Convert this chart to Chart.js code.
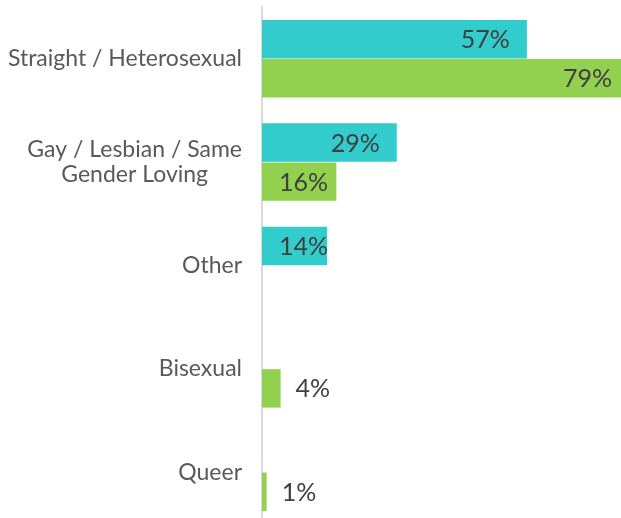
<!DOCTYPE html>
<html>
<head>
<meta charset="utf-8">
<script src="https://cdn.jsdelivr.net/npm/chart.js@4.4.1/dist/chart.umd.min.js"></script>
<style>
  html, body { margin: 0; padding: 0; background: #fff; overflow: hidden; }
  #wrap { width: 660px; height: 530px; }
</style>
</head>
<body>
<div id="wrap"><canvas id="chart"></canvas></div>
<script>
// categories (second one wraps on two lines)
const categories = [
  "Straight / Heterosexual",
  ["Gay / Lesbian / Same", "Gender Loving"],
  "Other",
  "Bisexual",
  "Queer",
];
// percent values per series, null = no bar
const tealValues = [57, 29, 14, null, null];
const greenValues = [79, 16, null, 4, 1];

const fontFamily = "Lato, 'Open Sans', sans-serif";

// percent labels: inside the end of the bar, outside when the bar is too short
const pctLabels = {
  id: "pctLabels",
  afterDatasetsDraw(chart) {
    const ctx = chart.ctx;
    ctx.save();
    ctx.font = "25px " + fontFamily;
    ctx.fillStyle = "#404040";
    ctx.textBaseline = "middle";
    ctx.textAlign = "left";
    chart.data.datasets.forEach((ds, di) => {
      chart.getDatasetMeta(di).data.forEach((bar, i) => {
        const v = ds.data[i];
        if (v == null) return;
        const text = v + "%";
        const w = ctx.measureText(text).width;
        const len = bar.x - bar.base;
        let x;
        if (len < w) x = bar.x + 15;
        else x = Math.max(bar.x - 17 - w, bar.base + 17);
        ctx.fillText(text, x, bar.y + 1);
      });
    });
    ctx.restore();
  },
};

// category labels, right aligned to the axis, wrapped lines centred on each other
const catLabels = {
  id: "catLabels",
  afterDraw(chart) {
    const ctx = chart.ctx;
    const yScale = chart.scales.y;
    ctx.save();
    ctx.font = "23px " + fontFamily;
    ctx.fillStyle = "#595959";
    ctx.textAlign = "center";
    ctx.textBaseline = "middle";
    const right = chart.chartArea.left - 20;
    chart.data.labels.forEach((lab, i) => {
      const lines = Array.isArray(lab) ? lab : [lab];
      const maxW = Math.max(...lines.map((l) => ctx.measureText(l).width));
      const cx = right - maxW / 2;
      const cy = yScale.getPixelForValue(i);
      lines.forEach((l, k) => {
        ctx.fillText(l, cx, cy + (k - (lines.length - 1) / 2) * 24.5);
      });
    });
    ctx.restore();
  },
};

new Chart(document.getElementById("chart"), {
  type: "bar",
  plugins: [pctLabels, catLabels],
  data: {
    labels: categories,
    datasets: [
      { label: "Series 1", data: tealValues, backgroundColor: "#33CCCC" },
      { label: "Series 2", data: greenValues, backgroundColor: "#92D050" },
    ],
  },
  options: {
    indexAxis: "y",
    responsive: true,
    maintainAspectRatio: false,
    animation: false,
    categoryPercentage: 0.755,
    barPercentage: 0.985,
    layout: { padding: { top: 7, bottom: 6, right: 3 } },
    plugins: {
      legend: { display: false },
      tooltip: { enabled: false },
    },
    scales: {
      x: { display: false, min: 0, max: 85 },
      y: {
        ticks: { display: false },
        grid: { display: false },
        border: { color: "#d9d9d9", width: 2 },
        afterFit: (scale) => { scale.width = 262; },
      },
    },
  },
});
</script>
</body>
</html>
